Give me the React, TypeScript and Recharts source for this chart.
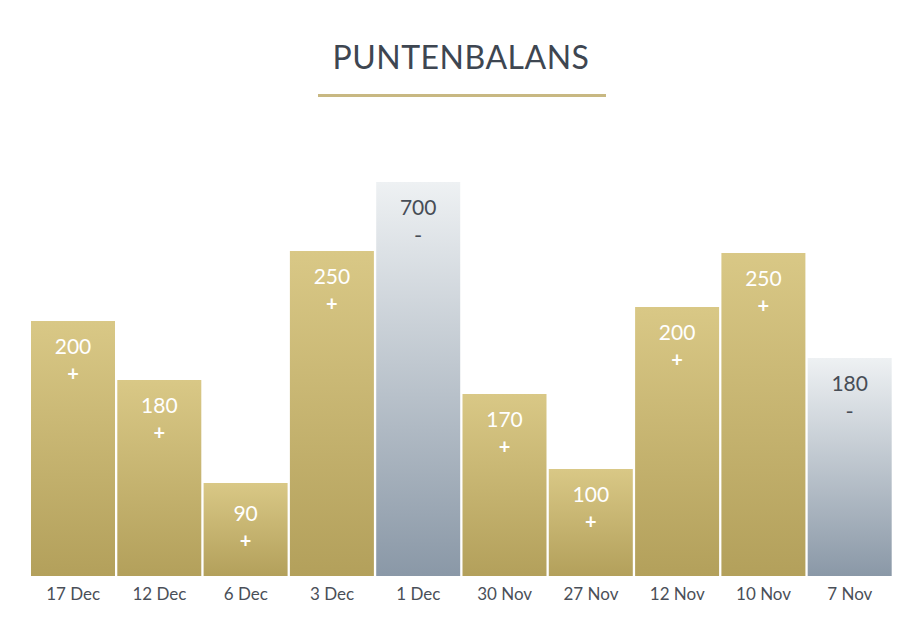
import React from "react";
import { BarChart, Bar, XAxis, YAxis, Cell, LabelList } from "recharts";

const dates = ["17 Dec", "12 Dec", "6 Dec", "3 Dec", "1 Dec", "30 Nov", "27 Nov", "12 Nov", "10 Nov", "7 Nov"];
const points = [200, 180, 90, 250, 700, 170, 100, 200, 250, 180];
const signs = ["+", "+", "+", "+", "-", "+", "+", "+", "+", "-"];
// visual bar heights as drawn in the reference (not proportional to the points)
const barHeights = [255, 196, 93, 325, 394, 182, 107, 269, 323, 218];

const data = dates.map((d, i) => ({
  date: d,
  h: barHeights[i],
  points: points[i],
  sign: signs[i],
}));

const FONT = "Lato, 'Open Sans', sans-serif";

const renderLabel = (props: any) => {
  const { x, y, width, height, index } = props;
  const positive = signs[index] === "+";
  const color = positive ? "#ffffff" : "#474d56";
  const cx = Number(x) + Number(width) / 2;
  const top = Number(y);
  const shift = Number(height) < 100 ? 5 : 0;
  return (
    <g>
      <text
        x={cx}
        y={top + 24 + shift}
        textAnchor="middle"
        dominantBaseline="central"
        fill={color}
        fontSize={21}
        fontFamily={FONT}
      >
        {points[index]}
      </text>
      <text
        x={cx}
        y={top + 52 + shift}
        textAnchor="middle"
        dominantBaseline="central"
        fill={color}
        fontSize={positive ? 20 : 22}
        fontWeight={positive ? 700 : 400}
        fontFamily={FONT}
      >
        {signs[index]}
      </text>
    </g>
  );
};

const renderTick = (props: any) => {
  const { x, y, payload } = props;
  return (
    <text
      x={x}
      y={Number(y) + 17}
      textAnchor="middle"
      dominantBaseline="central"
      fill="#4a4f58"
      fontSize={17}
      fontFamily={FONT}
    >
      {payload.value}
    </text>
  );
};

export default function App() {
  return (
    <div style={{ position: "relative", width: 895, height: 620, background: "#ffffff" }}>
      <div
        style={{
          position: "absolute",
          left: 0,
          top: 30,
          width: 906,
          textAlign: "center",
          fontFamily: FONT,
          fontSize: 32,
          color: "#3e4651",
          lineHeight: "38px",
          letterSpacing: 0.5,
        }}
      >
        PUNTENBALANS
      </div>
      <div
        style={{
          position: "absolute",
          left: 310,
          top: 86,
          width: 288,
          height: 3,
          background: "#c8b882",
        }}
      />
      <BarChart
        width={895}
        height={620}
        data={data}
        margin={{ top: 168, right: 10, bottom: 22, left: 22 }}
        barCategoryGap={1}
      >
        <defs>
          <linearGradient id="goldGrad" x1="0" y1="0" x2="0" y2="1">
            <stop offset="0%" stopColor="#d9c886" />
            <stop offset="100%" stopColor="#b3a05b" />
          </linearGradient>
          <linearGradient id="grayGrad" x1="0" y1="0" x2="0" y2="1">
            <stop offset="0%" stopColor="#eef1f3" />
            <stop offset="100%" stopColor="#8a98a7" />
          </linearGradient>
        </defs>
        <XAxis
          dataKey="date"
          axisLine={false}
          tickLine={false}
          tickSize={0}
          tickMargin={0}
          height={30}
          interval={0}
          tick={renderTick}
        />
        <YAxis hide domain={[0, 400]} />
        <Bar dataKey="h" isAnimationActive={false}>
          {data.map((d, i) => (
            <Cell key={i} fill={d.sign === "+" ? "url(#goldGrad)" : "url(#grayGrad)"} />
          ))}
          <LabelList dataKey="points" content={renderLabel} />
        </Bar>
      </BarChart>
    </div>
  );
}
